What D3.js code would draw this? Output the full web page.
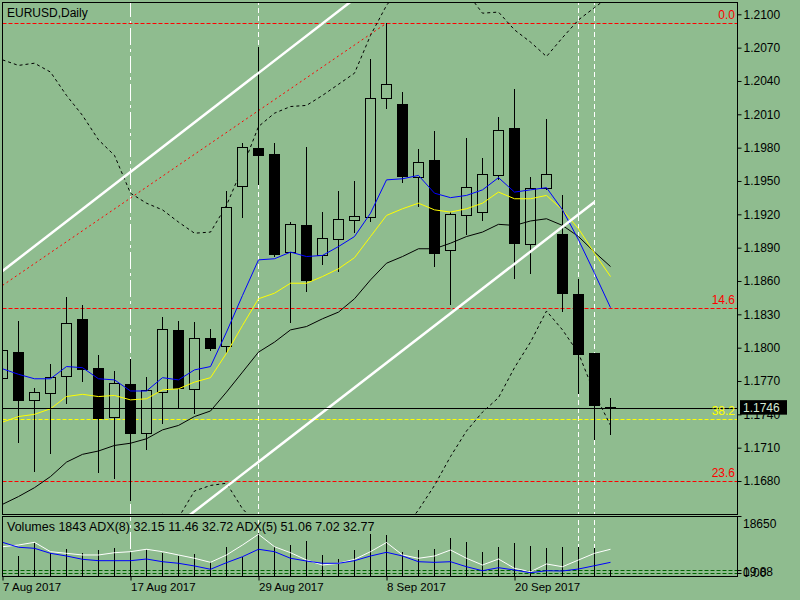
<!DOCTYPE html>
<html>
<head>
<meta charset="utf-8">
<script src="https://cdn.jsdelivr.net/npm/d3@7"></script>
<style>
  body { margin: 0; background: #8fbc8f; }
  text { font-family: "Liberation Sans", Arial, sans-serif; }
</style>
</head>
<body>
<script>
// EURUSD daily, 7 Aug - 28 Sep 2017

const dates = ["2017-08-07","2017-08-08","2017-08-09","2017-08-10","2017-08-11","2017-08-14","2017-08-15","2017-08-16","2017-08-17","2017-08-18",
  "2017-08-21","2017-08-22","2017-08-23","2017-08-24","2017-08-25","2017-08-28","2017-08-29","2017-08-30","2017-08-31",
  "2017-09-01","2017-09-04","2017-09-05","2017-09-06","2017-09-07","2017-09-08","2017-09-11","2017-09-12","2017-09-13","2017-09-14","2017-09-15",
  "2017-09-18","2017-09-19","2017-09-20","2017-09-21","2017-09-22","2017-09-25","2017-09-26","2017-09-27","2017-09-28"];

const open  = [1.1772,1.1796,1.1752,1.1759,1.1774,1.1825,1.1781,1.1737,1.1767,1.1723,1.1760,1.1815,1.1762,1.1808,1.1801,1.1945,1.1979,1.1974,1.1886,1.1910,
  1.1883,1.1897,1.1914,1.1917,1.2024,1.2019,1.1953,1.1968,1.1887,1.1919,1.1922,1.1955,1.1997,1.1893,1.1943,1.1902,1.1848,1.1795,1.1745];
const high  = [1.1802,1.1824,1.1764,1.1785,1.1846,1.1838,1.1793,1.1779,1.1790,1.1774,1.1828,1.1824,1.1823,1.1817,1.1941,1.1984,1.2071,1.1984,1.1913,1.1981,
  1.1922,1.1941,1.1950,1.2060,1.2092,1.2030,1.1979,1.1995,1.1922,1.1989,1.1971,1.2008,1.2033,1.1954,1.2006,1.1937,1.1862,1.1795,1.1755];
const low   = [1.1766,1.1714,1.1688,1.1704,1.1749,1.1769,1.1687,1.1682,1.1662,1.1708,1.1731,1.1745,1.1740,1.1797,1.1795,1.1917,1.1946,1.1882,1.1822,1.1850,
  1.1874,1.1868,1.1903,1.1913,1.2015,1.1948,1.1927,1.1873,1.1838,1.1901,1.1914,1.1951,1.1862,1.1866,1.1942,1.1832,1.1758,1.1717,1.1721];
const close = [1.1797,1.1752,1.1760,1.1773,1.1822,1.1780,1.1736,1.1768,1.1723,1.1761,1.1816,1.1763,1.1808,1.1799,1.1926,1.1980,1.1973,1.1884,1.1911,1.1860,
  1.1898,1.1915,1.1918,1.2024,1.2037,1.1954,1.1967,1.1885,1.1920,1.1944,1.1956,1.1995,1.1894,1.1943,1.1956,1.1849,1.1794,1.1748,1.1746];

// moving averages (blue fast, yellow middle, black slow)
const maFast = [1.1781,1.1776,1.1772,1.1772,1.1783,1.1782,1.1772,1.1771,1.1761,1.1761,1.1773,1.1771,1.1780,1.1783,1.1814,1.1847,1.1879,1.1880,1.1886,1.1882,
  1.1883,1.1891,1.1900,1.1921,1.1951,1.1952,1.1955,1.1939,1.1935,1.1937,1.1942,1.1953,1.1940,1.1942,1.1944,1.1924,1.1897,1.1867,1.1836];
const maMid  = [1.1733,1.1738,1.1740,1.1745,1.1756,1.1758,1.1756,1.1757,1.1753,1.1754,1.1762,1.1763,1.1769,1.1773,1.1795,1.1820,1.1844,1.1849,1.1858,1.1858,
  1.1864,1.1871,1.1881,1.1900,1.1919,1.1925,1.1930,1.1924,1.1922,1.1925,1.1930,1.1940,1.1934,1.1934,1.1937,1.1924,1.1907,1.1885,1.1864];
const maSlow = [1.1659,1.1666,1.1674,1.1684,1.1697,1.1704,1.1707,1.1712,1.1714,1.1718,1.1726,1.1730,1.1738,1.1743,1.1760,1.1778,1.1796,1.1805,1.1816,1.1819,
  1.1826,1.1832,1.1844,1.1861,1.1876,1.1882,1.1889,1.1889,1.1894,1.1900,1.1904,1.1911,1.1910,1.1914,1.1916,1.1910,1.1900,1.1886,1.1873];

// envelope bands (dotted)
const bandUp  = [1.2059,1.2054,1.2056,1.2048,1.2027,1.2009,1.1987,1.1973,1.1939,1.1930,1.1924,1.1913,1.1903,1.1904,1.1928,1.1962,1.1999,1.2011,1.2017,1.2018,
  1.2027,1.2037,1.2047,1.2081,1.2108,1.2126,1.2135,1.2133,1.2126,1.2120,1.2101,1.2102,1.2086,1.2075,1.2062,1.2079,1.2095,1.2106,1.2117];
const bandLow = [1.1550,1.1555,1.1565,1.1580,1.1600,1.1615,1.1625,1.1635,1.1640,1.1645,1.1650,1.1647,1.1671,1.1676,1.1678,1.1655,1.1640,1.1625,1.1615,1.1610,
  1.1605,1.1605,1.1610,1.1615,1.1620,1.1635,1.1654,1.1676,1.1702,1.1725,1.1742,1.1755,1.1782,1.1805,1.1833,1.1816,1.1795,1.1759,1.1730];

const volume = [6500,6250,10400,7090,8340,7090,8120,8650,7590,8120,7090,6250,6870,4470,9150,6030,13340,9150,9680,11030,
  6560,5220,8120,13120,12810,7590,8120,8340,11780,10530,7590,9150,10220,9370,8650,8970,9150,8650,1843];
const adx5 = [54.8,57.3,61.2,47.6,45.2,42.8,42.8,46.1,47.6,51.1,47.6,42.8,38.0,32.1,42.8,57.3,72.9,54.8,46.1,35.5,
  28.2,30.7,36.5,47.6,60.9,42.8,38.0,41.3,50.0,38.0,28.2,36.9,23.4,18.5,29.7,25.7,35.5,45.2,51.1];
const adx8 = [61.2,54.0,52.5,45.2,41.3,36.5,34.5,34.5,34.5,36.9,33.0,30.7,26.8,22.0,31.6,40.3,51.1,47.6,38.0,34.0,
  30.7,30.7,34.5,41.3,46.7,41.3,33.0,32.1,33.0,25.7,19.9,24.3,20.9,17.0,19.9,19.5,22.4,27.2,32.1];
const adxLevels = [21, 17];

const priceTicks = [1.2100,1.2070,1.2040,1.2010,1.1980,1.1950,1.1920,1.1890,1.1860,1.1830,1.1800,1.1770,1.1740,1.1710,1.1680];
const dateTickLabels = ["7 Aug 2017","17 Aug 2017","29 Aug 2017","8 Sep 2017","20 Sep 2017"];
const dateTickDays = ["2017-08-07","2017-08-17","2017-08-29","2017-09-08","2017-09-20"];

const fibLevels = [
  {price: 1.2092, label: "0.0",  color: "#ff0000"},
  {price: 1.1836, label: "14.6", color: "#ff0000"},
  {price: 1.1680, label: "23.6", color: "#ff0000"},
  {price: 1.1736, label: "38.2", color: "#ffff00"}
];
const lastPrice = 1.1746;
const vLines = [{day: 8, dash: "17,4,3,4"}, {day: 16, dash: "5,3"}, {day: 36, dash: "5,3"}, {day: 37, dash: "5,3"}];
// trend lines as [barIndex, price] pairs
const channelTop = [[0, 1.1869], [22, 1.2114]];
const channelBottom = [[10.5, 1.1636], [37, 1.1931]];
const fibDiagonal = [[0, 1.1856], [24, 1.2092]];

const W = 800, H = 600;
const bg = "#8fbc8f";
const left = 2.5, right = 737.5, mainTop = 2.5, mainBottom = 514.5, volTop = 516.5, volBottom = 576.5;

const svg = d3.select("body").append("svg")
  .attr("width", W).attr("height", H);

svg.append("rect").attr("width", W).attr("height", H).attr("fill", bg);

const defs = svg.append("defs");
defs.append("clipPath").attr("id", "clipMain").append("rect")
  .attr("x", left + 0.5).attr("y", mainTop + 0.5).attr("width", right - left - 1).attr("height", mainBottom - mainTop - 1);
defs.append("clipPath").attr("id", "clipVol").append("rect")
  .attr("x", left + 0.5).attr("y", volTop + 0.5).attr("width", right - left - 1).attr("height", volBottom - volTop - 1);

const x = d3.scaleLinear().domain([0, dates.length - 1]).range([2.5, 2.5 + 16 * (dates.length - 1)]);
const y = d3.scaleLinear().domain([1.2100, 1.1680]).range([14.3, 481]);
const yVol = d3.scaleLinear().domain([0, 18650]).range([576, 516.3]);
const yAdx = d3.scaleLinear().domain([0, 100]).range([584.4, 515.65]);

const main = svg.append("g").attr("clip-path", "url(#clipMain)");
const vol = svg.append("g").attr("clip-path", "url(#clipVol)");

// vertical lines (both windows)
[main, vol].forEach(g => {
  g.selectAll(".vline").data(vLines).enter().append("line")
    .attr("x1", d => x(d.day)).attr("x2", d => x(d.day))
    .attr("y1", 0).attr("y2", H)
    .attr("stroke", "#fff").attr("stroke-width", 1)
    .attr("stroke-dasharray", d => d.dash);
});

// fibo horizontal levels
main.selectAll(".fib").data(fibLevels).enter().append("line")
  .attr("x1", left).attr("x2", right)
  .attr("y1", d => Math.round(y(d.price)) + 0.5).attr("y2", d => Math.round(y(d.price)) + 0.5)
  .attr("stroke", d => d.color).attr("stroke-dasharray", "4,2");

// fibo diagonal
main.append("line")
  .attr("x1", x(fibDiagonal[0][0])).attr("y1", y(fibDiagonal[0][1]))
  .attr("x2", x(fibDiagonal[1][0])).attr("y2", y(fibDiagonal[1][1]))
  .attr("stroke", "#ff0000").attr("stroke-dasharray", "2,3");

// bands
const line = arr => d3.line().x((d, i) => x(i)).y(d => y(d))(arr);
[bandUp, bandLow].forEach(b => {
  main.append("path").attr("d", line(b)).attr("fill", "none")
    .attr("stroke", "#000").attr("stroke-dasharray", "3,3");
});

// candles
const idx = d3.range(dates.length);
main.selectAll(".wick").data(idx).enter().append("line")
  .attr("x1", i => x(i)).attr("x2", i => x(i))
  .attr("y1", i => y(high[i])).attr("y2", i => y(low[i]))
  .attr("stroke", "#000").attr("shape-rendering", "crispEdges");
main.selectAll(".body").data(idx).enter().append("rect")
  .attr("x", i => x(i) - 5).attr("width", 10)
  .attr("y", i => y(Math.max(open[i], close[i])))
  .attr("height", i => Math.max(1, Math.abs(y(open[i]) - y(close[i]))))
  .attr("fill", i => close[i] >= open[i] ? bg : "#000")
  .attr("stroke", "#000").attr("shape-rendering", "crispEdges");

// moving averages
[[maSlow, "#000"], [maMid, "#ffff00"], [maFast, "#0000ff"]].forEach(([arr, c]) => {
  main.append("path").attr("d", line(arr)).attr("fill", "none").attr("stroke", c);
});

// channel
[channelTop, channelBottom].forEach(p => {
  main.append("line")
    .attr("x1", x(p[0][0])).attr("y1", y(p[0][1]))
    .attr("x2", x(p[1][0])).attr("y2", y(p[1][1]))
    .attr("stroke", "#fff").attr("stroke-width", 2.5);
});

// last price line
main.append("line")
  .attr("x1", left).attr("x2", right)
  .attr("y1", Math.round(y(lastPrice)) + 0.5).attr("y2", Math.round(y(lastPrice)) + 0.5)
  .attr("stroke", "#000");

// fibo labels
svg.selectAll(".fibLabel").data(fibLevels).enter().append("text")
  .attr("x", 735).attr("y", d => y(d.price) - 4)
  .attr("text-anchor", "end").attr("font-size", 12)
  .attr("fill", d => d.color).text(d => d.label);

// title
svg.append("text").attr("x", 7).attr("y", 17).attr("font-size", 12).text("EURUSD,Daily");

// volume window
vol.selectAll(".lvl").data(adxLevels).enter().append("line")
  .attr("x1", left).attr("x2", right)
  .attr("y1", d => Math.round(yAdx(d)) + 0.5).attr("y2", d => Math.round(yAdx(d)) + 0.5)
  .attr("stroke", "#006400").attr("stroke-dasharray", "4,2");
vol.selectAll(".vbar").data(idx).enter().append("line")
  .attr("x1", i => x(i)).attr("x2", i => x(i))
  .attr("y1", yVol(0)).attr("y2", i => yVol(volume[i]))
  .attr("stroke", "#000").attr("shape-rendering", "crispEdges");
const adxLine = arr => d3.line().x((d, i) => x(i)).y(d => yAdx(d))(arr);
vol.append("path").attr("d", adxLine(adx5)).attr("fill", "none").attr("stroke", "#fff");
vol.append("path").attr("d", adxLine(adx8)).attr("fill", "none").attr("stroke", "#0000ff");

svg.append("text").attr("x", 7).attr("y", 531).attr("font-size", 12.5)
  .text("Volumes " + volume[volume.length - 1] + " ADX(8) 32.15 11.46 32.72 ADX(5) 51.06 7.02 32.77");

// frames
svg.append("rect").attr("x", left).attr("y", mainTop).attr("width", right - left).attr("height", mainBottom - mainTop)
  .attr("fill", "none").attr("stroke", "#000");
svg.append("rect").attr("x", left).attr("y", volTop).attr("width", right - left).attr("height", volBottom - volTop)
  .attr("fill", "none").attr("stroke", "#000");

// price axis
const yAxis = d3.axisRight(y).tickValues(priceTicks).tickSize(4).tickPadding(2).tickFormat(d3.format(".4f"));
svg.append("g").attr("transform", `translate(${right},0)`).call(yAxis)
  .call(g => g.select(".domain").remove())
  .call(g => g.selectAll("text").attr("font-size", 12).attr("font-family", "Liberation Sans, Arial, sans-serif").attr("fill", "#000"));

// last price box
svg.append("rect").attr("x", 740).attr("y", y(lastPrice) - 7.5).attr("width", 47).attr("height", 14.5).attr("fill", "#000");
svg.append("text").attr("x", 743).attr("y", y(lastPrice) + 4.5).attr("font-size", 12)
  .attr("fill", "#d4ead4").text(lastPrice.toFixed(4));

// volume axis
const volAxis = svg.append("g").attr("font-size", 12);
[{y: 516.5, t: "18650", ty: 528}, {y: 570.5, t: "19.88", ty: 576}, {y: 573.5, t: "0.00", ty: 577}].forEach(d => {
  volAxis.append("line").attr("x1", right).attr("x2", right + 4).attr("y1", d.y).attr("y2", d.y).attr("stroke", "#000");
  volAxis.append("text").attr("x", 743).attr("y", d.ty).text(d.t);
});

// time axis
const tickIdx = dateTickDays.map(d => dates.indexOf(d));
const xAxis = d3.axisBottom(x).tickValues(tickIdx).tickSize(4).tickPadding(2)
  .tickFormat((d, i) => dateTickLabels[i]);
svg.append("g").attr("transform", `translate(0,${volBottom})`).call(xAxis)
  .call(g => g.select(".domain").remove())
  .call(g => g.selectAll("text").attr("text-anchor", "start").attr("dx", 0)
    .attr("font-size", 11.5).attr("font-family", "Liberation Sans, Arial, sans-serif").attr("fill", "#000"));
</script>
</body>
</html>
